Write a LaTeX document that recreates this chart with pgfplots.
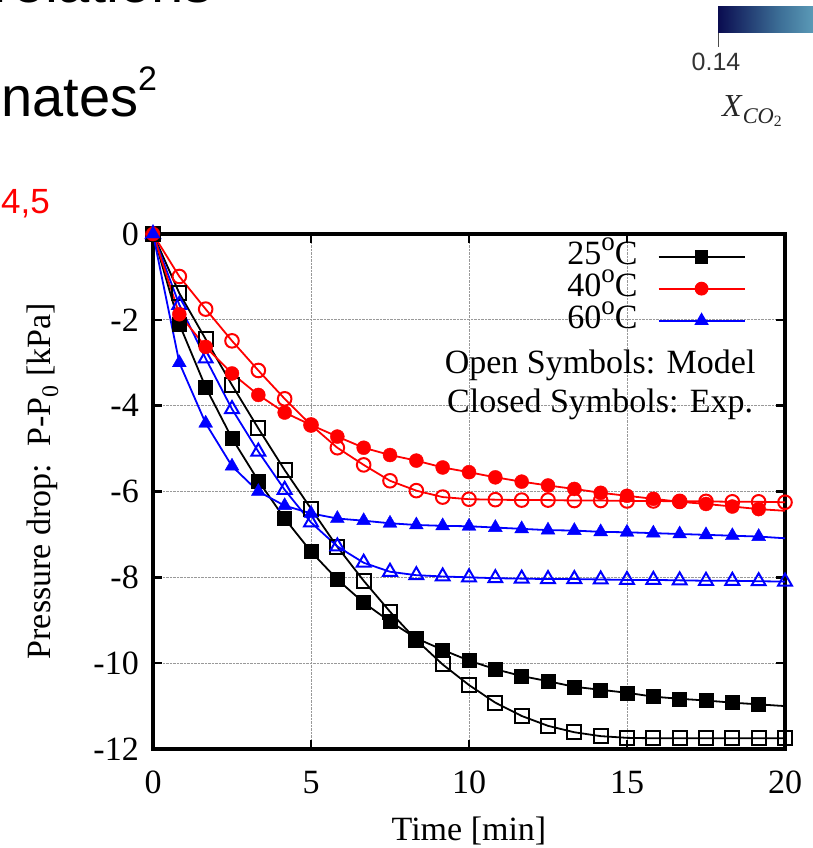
\documentclass[border=0pt]{standalone}
\usepackage{fontspec}
\setmainfont{Liberation Serif}
\newfontfamily\arial{Liberation Sans}
\usepackage{pgfplots}
\pgfplotsset{compat=1.18}
\usepackage{pgfplotstable}
\definecolor{myred}{RGB}{255,0,0}
\definecolor{myblue}{RGB}{0,0,255}
\definecolor{cbdark}{RGB}{10,12,80}
\definecolor{cbmid}{RGB}{60,110,150}
\definecolor{cblight}{RGB}{115,188,208}
\newcommand{\degsym}{\raisebox{0.42em}{\fontsize{27}{30}\selectfont o}}

\pgfplotstableread{
t       m25     e25     m40    e40    m60    e60
0       0       0       0      0      0      0
0.8333  -1.38   -2.10   -0.99  -1.87  -1.65  -3.00
1.6667  -2.45   -3.57   -1.75  -2.63  -2.90  -4.41
2.5     -3.52   -4.76   -2.49  -3.25  -4.08  -5.41
3.3333  -4.53   -5.75   -3.18  -3.75  -5.07  -6.00
4.1667  -5.50   -6.63   -3.84  -4.16  -5.96  -6.33
5       -6.40   -7.40   -4.45  -4.45  -6.72  -6.51
5.8333  -7.29   -8.05   -4.98  -4.72  -7.28  -6.63
6.6667  -8.08   -8.59   -5.38  -4.98  -7.66  -6.68
7.5     -8.80   -9.03   -5.75  -5.15  -7.87  -6.74
8.3333  -9.46   -9.42   -5.98  -5.28  -7.95  -6.78
9.1667  -10.03  -9.69   -6.13  -5.44  -7.98  -6.80
10      -10.51  -9.94   -6.18  -5.55  -8.00  -6.81
10.8333 -10.92  -10.14  -6.19  -5.67  -8.02  -6.84
11.6667 -11.23  -10.30  -6.20  -5.77  -8.03  -6.87
12.5    -11.46  -10.42  -6.20  -5.86  -8.04  -6.90
13.3333 -11.61  -10.55  -6.21  -5.94  -8.04  -6.91
14.1667 -11.70  -10.62  -6.21  -6.03  -8.05  -6.94
15      -11.74  -10.69  -6.22  -6.10  -8.06  -6.95
15.8333 -11.75  -10.78  -6.22  -6.17  -8.06  -6.97
16.6667 -11.75  -10.83  -6.23  -6.24  -8.07  -6.99
17.5    -11.75  -10.87  -6.23  -6.29  -8.08  -7.01
18.3333 -11.75  -10.92  -6.24  -6.35  -8.08  -7.03
19.1667 -11.75  -10.96  -6.24  -6.41  -8.09  -7.05
20      -11.75  -11.00  -6.25  -6.45  -8.10  -7.09
}\data

\begin{document}
\begin{tikzpicture}
\useasboundingbox (0pt,0pt) rectangle (813pt,-848pt);
\begin{scope}
\clip (0pt,0pt) rectangle (813pt,-848pt);
% slide fragments around the chart
\node[anchor=base east, inner sep=0pt, font=\arial\fontsize{58}{62}\selectfont] at (213pt,-3pt) {Correlations};
\node[anchor=base west, inner sep=0pt, font=\arial\fontsize{56}{62}\selectfont] at (1pt,-117pt) {nates\raisebox{0.48em}{\fontsize{34}{36}\selectfont 2}};
\node[anchor=base west, inner sep=0pt, text=myred, font=\arial\fontsize{35}{40}\selectfont] at (1pt,-213pt) {4,5};
\shade[left color=cbdark, right color=cblight, middle color=cbmid] (718pt,-7pt) rectangle (840pt,-33pt);
\draw[line width=1pt, black!70] (718pt,-33pt) -- (718pt,-47pt);
\node[anchor=base, inner sep=0pt, text=black!80, font=\arial\fontsize{25}{28}\selectfont] at (716pt,-71pt) {0.14};
\node[anchor=base west, inner sep=0pt, text=black!85, font=\fontsize{32}{34}\selectfont] at (722pt,-117pt) {\textit{X}\textsubscript{\textit{CO}\textsubscript{2}}};

\begin{axis}[
  at={(153pt,-749pt)}, anchor=south west,
  scale only axis, width=632pt, height=515pt,
  xmin=0, xmax=20, ymin=-12, ymax=0,
  clip=false,
  xtick={0,5,10,15,20}, xticklabels={0,5,10,15,20},
  ytick={-12,-10,-8,-6,-4,-2,0}, yticklabels={-12,-10,-8,-6,-4,-2,0},
  /pgf/number format/assume math mode=true,
  tick align=inside, major tick length=9pt,
  tick style={line width=2.5pt, black},
  axis line style={line width=3.5pt},
  grid=major, major grid style={densely dotted, gray!80, line width=0.9pt},
  font=\fontsize{34}{40}\selectfont,
  every tick label/.append style={font=\fontsize{34}{40}\selectfont, inner sep=0pt},
  xticklabel style={anchor=north, yshift=-22pt},
  yticklabel style={anchor=east, xshift=-14pt},
  xlabel={Time [min]},
  xlabel style={at={(axis description cs:0.5,0)}, anchor=base, yshift=-91pt, inner sep=0pt},
  ylabel={Pressure drop:\ \ P-P\textsubscript{0} [kPa]},
  ylabel style={at={(axis description cs:-0.1614,0.52)}, anchor=base, inner sep=0pt},
  legend image code/.code={\draw[mark repeat=2,mark phase=2,#1] plot coordinates {(0pt,0pt) (43pt,0pt) (86pt,0pt)};},
  legend plot pos=right,
  legend cell align=right,
  legend style={draw=none, fill=none, at={(axis cs:18.85,-0.15)}, anchor=north east,
    font=\fontsize{34}{40}\selectfont, column sep=20pt, row sep=4pt,
    nodes={inner sep=0pt, text height=22pt, text depth=6pt}},
]
% model (open symbols)
\addplot[black, line width=1.8pt, mark=square, mark size=7pt, mark options={fill=white, line width=2pt}, forget plot] table[x=t,y=m25]{\data};
\addplot[myred, line width=1.8pt, mark=o, mark size=6.8pt, mark options={fill=white, line width=2pt}, forget plot] table[x=t,y=m40]{\data};
\addplot[myblue, line width=1.8pt, mark=triangle, mark size=8pt, mark options={fill=white, line width=2pt}, forget plot] table[x=t,y=m60]{\data};
% experiment lines (closed symbols)
\addplot[black, line width=1.8pt, forget plot] table[x=t,y=e25]{\data};
\addplot[myred, line width=1.8pt, forget plot] table[x=t,y=e40]{\data};
\addplot[myblue, line width=1.8pt, forget plot] table[x=t,y=e60]{\data};
\addplot[black, only marks, mark=square*, mark size=7pt, skip coords between index={24}{25}, forget plot] table[x=t,y=e25]{\data};
\addplot[myred, only marks, mark=*, mark size=7pt, skip coords between index={24}{25}, forget plot] table[x=t,y=e40]{\data};
\addplot[myblue, only marks, mark=triangle*, mark size=8pt, skip coords between index={24}{25}, forget plot] table[x=t,y=e60]{\data};
\addlegendimage{black, line width=1.8pt, mark=square*, mark size=6pt}
\addlegendentry{25\degsym C}
\addlegendimage{myred, line width=1.8pt, mark=*, mark size=6pt}
\addlegendentry{40\degsym C}
\addlegendimage{myblue, line width=1.8pt, mark=triangle*, mark size=6.5pt}
\addlegendentry{60\degsym C}
\node[anchor=base, inner sep=0pt] at (axis cs:14.15,-3.24) {Open Symbols: Model};
\node[anchor=base, inner sep=0pt] at (axis cs:14.15,-4.17) {Closed Symbols: Exp.};
\end{axis}
\end{scope}
\end{tikzpicture}
\end{document}
